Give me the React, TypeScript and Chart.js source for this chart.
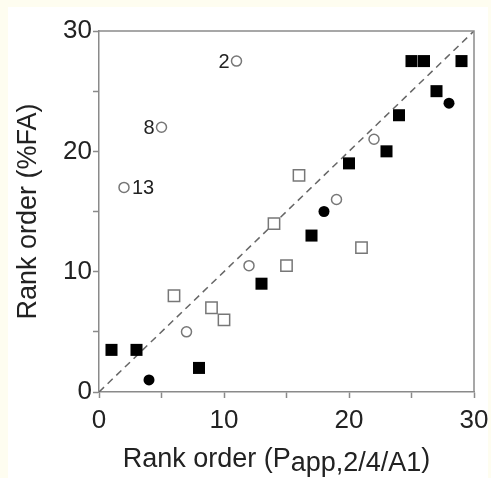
import React, { useEffect, useRef } from "react";
import { Chart, registerables } from "chart.js";

Chart.register(...registerables);

// ---- data ----
const filledSquaresX = [1, 3, 8, 13, 17, 20, 23, 24, 25, 26, 27, 29];
const filledSquaresY = [3.5, 3.5, 2, 9, 13, 19, 20, 23, 27.5, 27.5, 25, 27.5];
const openSquaresX = [6, 9, 10, 14, 15, 16, 21];
const openSquaresY = [8, 7, 6, 14, 10.5, 18, 12];
const filledCirclesX = [4, 18, 28];
const filledCirclesY = [1, 15, 24];
const openCirclesX = [2, 5, 7, 11, 12, 19, 22];
const openCirclesY = [17, 22, 5, 27.5, 10.5, 16, 21];
const identityLine = [0, 30];

const labelTexts = ["2", "8", "13"];
const labelX = [11, 5, 2];
const labelY = [27.5, 22, 17];
const labelSide = ["left", "left", "right"];

const axisMin = 0;
const axisMax = 30;
const tickStep = 5;
const labelEvery = 10;

const xTitleMain = "Rank order (P";
const xTitleSub = "app,2/4/A1";
const xTitleEnd = ")";
const yTitle = "Rank order (%FA)";

const FONT = "'Liberation Sans', Arial, sans-serif";
const TEXT = "#222";
const AXIS = "#8a8a8a";

const zip = (xs: number[], ys: number[]) => xs.map((x, i) => ({ x, y: ys[i] }));

const annotations = {
  id: "annotations",
  afterDatasetsDraw(chart: any) {
    const { ctx, chartArea, scales } = chart;
    ctx.save();
    // frame top & right
    ctx.strokeStyle = AXIS;
    ctx.lineWidth = 1.5;
    ctx.beginPath();
    ctx.moveTo(chartArea.left, chartArea.top);
    ctx.lineTo(chartArea.right, chartArea.top);
    ctx.lineTo(chartArea.right, chartArea.bottom);
    ctx.stroke();
    // point labels
    ctx.fillStyle = TEXT;
    ctx.font = `20px ${FONT}`;
    ctx.textBaseline = "middle";
    labelTexts.forEach((t, i) => {
      const px = scales.x.getPixelForValue(labelX[i]);
      const py = scales.y.getPixelForValue(labelY[i]);
      if (labelSide[i] === "left") {
        ctx.textAlign = "right";
        ctx.fillText(t, px - 7, py + 1);
      } else {
        ctx.textAlign = "left";
        ctx.fillText(t, px + 8, py + 1);
      }
    });
    // x axis title with subscript
    const size = 27;
    ctx.font = `${size}px ${FONT}`;
    const w1 = ctx.measureText(xTitleMain).width;
    const w2 = ctx.measureText(xTitleSub).width;
    const w3 = ctx.measureText(xTitleEnd).width;
    const total = w1 + w2 + w3;
    const cx = (chartArea.left + chartArea.right) / 2 - 10;
    let x = cx - total / 2;
    const base = chartArea.bottom + 75;
    ctx.textAlign = "left";
    ctx.textBaseline = "alphabetic";
    ctx.fillText(xTitleMain, x, base);
    x += w1;
    ctx.fillText(xTitleSub, x, base + 4);
    x += w2;
    ctx.fillText(xTitleEnd, x, base);
    ctx.restore();
  },
};

export default function App() {
  const ref = useRef<HTMLCanvasElement>(null);

  useEffect(() => {
    document.body.style.background = "#fefdf0";
    document.body.style.overflow = "hidden";
    const tickCb = (v: any) => (Number(v) % labelEvery === 0 ? String(v) : "");
    const chart = new Chart(ref.current!, {
      type: "scatter",
      data: {
        datasets: [
          {
            data: zip(filledSquaresX, filledSquaresY),
            pointStyle: "rect",
            pointRadius: 8.5,
            backgroundColor: "#000",
            borderColor: "#000",
            borderWidth: 0,
          },
          {
            data: zip(filledCirclesX, filledCirclesY),
            pointStyle: "circle",
            pointRadius: 5.5,
            backgroundColor: "#000",
            borderColor: "#000",
            borderWidth: 0,
          },
          {
            data: zip(openSquaresX, openSquaresY),
            pointStyle: "rect",
            pointRadius: 8,
            backgroundColor: "#fff",
            borderColor: "#777",
            borderWidth: 1.5,
          },
          {
            data: zip(openCirclesX, openCirclesY),
            pointStyle: "circle",
            pointRadius: 5,
            backgroundColor: "#fff",
            borderColor: "#777",
            borderWidth: 1.5,
          },
          {
            type: "line",
            data: zip(identityLine, identityLine),
            borderColor: "#666",
            borderWidth: 1.5,
            borderDash: [7, 5],
            pointRadius: 0,
            fill: false,
          } as any,
        ],
      },
      options: {
        animation: false,
        responsive: true,
        maintainAspectRatio: false,
        layout: { padding: { left: 0, right: 14, top: 24, bottom: 0 } },
        plugins: { legend: { display: false }, tooltip: { enabled: false } },
        scales: {
          x: {
            type: "linear",
            min: axisMin,
            max: axisMax,
            ticks: {
              stepSize: tickStep,
              callback: tickCb,
              autoSkip: false,
              maxRotation: 0,
              color: TEXT,
              font: { family: FONT, size: 26 },
              padding: 7,
            },
            grid: {
              drawOnChartArea: false,
              drawTicks: true,
              tickLength: 6,
              tickColor: AXIS,
              tickWidth: 1.5,
            },
            border: { color: AXIS, width: 1.5 },
            afterFit: (s: any) => {
              s.height = 86;
              s.paddingLeft = 0;
              s.paddingRight = 0;
            },
          },
          y: {
            type: "linear",
            min: axisMin,
            max: axisMax,
            ticks: {
              stepSize: tickStep,
              callback: tickCb,
              autoSkip: false,
              color: TEXT,
              font: { family: FONT, size: 26 },
              padding: 1,
            },
            grid: {
              drawOnChartArea: false,
              drawTicks: true,
              tickLength: 6,
              tickColor: AXIS,
              tickWidth: 1.5,
            },
            border: { color: AXIS, width: 1.5 },
            title: {
              display: true,
              text: yTitle,
              color: TEXT,
              font: { family: FONT, size: 27 },
              padding: { top: 4, bottom: 0 },
            },
            afterFit: (s: any) => {
              s.width = 91;
              s.paddingTop = 0;
              s.paddingBottom = 0;
            },
          },
        },
      },
      plugins: [annotations],
    });
    return () => chart.destroy();
  }, []);

  return (
    <div
      style={{
        position: "fixed",
        left: 8,
        top: 7,
        width: 480,
        height: 471,
        background: "#fff",
      }}
    >
      <canvas ref={ref} />
    </div>
  );
}
